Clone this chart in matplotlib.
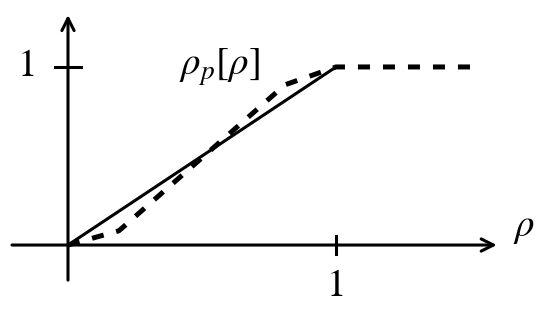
import matplotlib
matplotlib.use("Agg")
import matplotlib.pyplot as plt

plt.rcParams['mathtext.fontset'] = 'stix'
plt.rcParams['font.family'] = 'STIXGeneral'

# data
solid_x = [0, 1]
solid_y = [0, 1]
dashed_x = [0, 0.19, 0.81, 1, 1.5]
dashed_y = [0, 0.08, 0.9, 1, 1]
tick_labels = ["1", "1"]

fig = plt.figure(figsize=(5.5, 3.2), dpi=100)
ax = fig.add_axes([0, 0, 1, 1])
ax.set_xlim(-0.2537, 1.7985)
ax.set_ylim(-0.421, 1.376)
ax.axis("off")

# axes with arrows
arrow = dict(arrowstyle="->", lw=2.2, color="black", mutation_scale=22,
             shrinkA=0, shrinkB=0)
ax.annotate("", xy=(1.60, 0), xytext=(-0.209, 0), arrowprops=arrow)
ax.annotate("", xy=(0, 1.292), xytext=(0, -0.197), arrowprops=arrow)

# ticks
ax.plot([1, 1], [-0.048, 0.048], color="black", lw=2.2)
ax.plot([-0.05, 0.05], [1, 1], color="black", lw=2.2)

# curves
ax.plot(solid_x, solid_y, color="black", lw=2.2, solid_capstyle="butt")
ax.plot(dashed_x, dashed_y, color="black", lw=3.6, linestyle=(0, (2.4, 2.6)))

# labels
ax.text(-0.15, 1.0, tick_labels[1], fontsize=28, ha="center", va="center")
ax.text(1.0, -0.236, tick_labels[0], fontsize=28, ha="center", va="center")
ax.text(1.70, 0.09, r"$\rho$", fontsize=28, ha="center", va="center")
ax.text(0.563, 1.0, r"$\rho_p[\rho]$", fontsize=28, ha="center", va="center")

plt.savefig("out.png", dpi=100)
